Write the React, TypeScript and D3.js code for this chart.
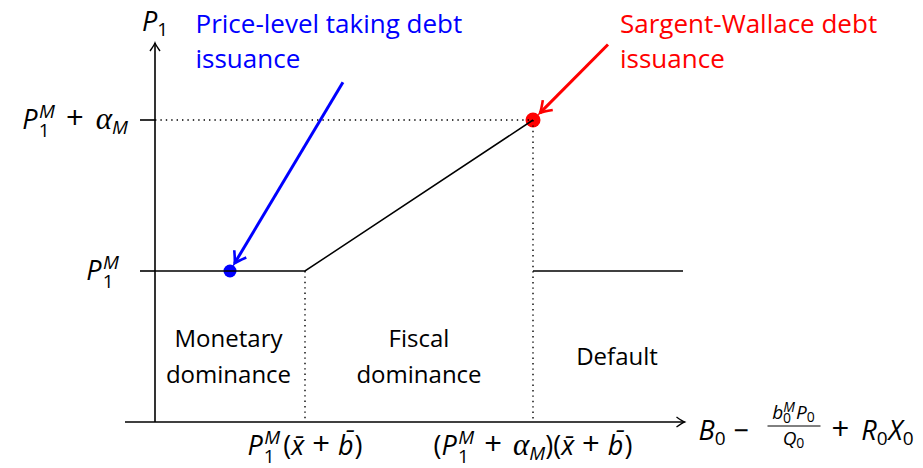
import React from "react";
import * as d3 from "d3";

// Regime diagram: period-1 price level against the debt position
const W = 923;
const H = 468;

const priceLevels = [1, 2]; // P1^M and P1^M + alpha_M
const thresholds = [1, 2.52]; // P1^M(x+b) and (P1^M+alpha_M)(x+b)
const policyX = [0, 1, 2.52];
const policyY = [1, 1, 2];
const defaultX = [2.52, 3.52];
const defaultY = [1, 1];
const regimeNames = [["Monetary", "dominance"], ["Fiscal", "dominance"], ["Default"]];
const regimeCenters = [0.49, 1.76, 3.08];
const regimeMid = 0.435;
const points = [
  { x: 0.5, y: 1, color: "#0000ff", from: [1.253, 2.25], lines: ["Price-level taking debt", "issuance"], tx: 0.27 },
  { x: 2.52, y: 2, color: "#ff0000", from: [3.02, 2.5], lines: ["Sargent-Wallace debt", "issuance"], tx: 3.1 },
];
const xExtent = [-0.2, 3.53];
const yTop = 2.51;

const FONT = "'Open Sans', Lato, sans-serif";
const SERIF = "'Liberation Serif', 'DejaVu Serif', serif";
const BIG = 27;
const SUB = 19;
const PLUS = 31;
const W_M = SUB * 0.86;
const W_1 = SUB * 0.57;

function arrowHead(tx: number, ty: number, dx: number, dy: number, len: number, half: number) {
  const l = Math.hypot(dx, dy);
  const ux = dx / l, uy = dy / l;
  const nx = -uy, ny = ux;
  const bx = tx - len * ux, by = ty - len * uy;
  const cx = tx - len * 0.25 * ux, cy = ty - len * 0.25 * uy;
  return `M${bx + half * nx},${by + half * ny} Q${cx + half * 0.15 * nx},${cy + half * 0.15 * ny} ${tx},${ty} Q${cx - half * 0.15 * nx},${cy - half * 0.15 * ny} ${bx - half * nx},${by - half * ny}`;
}

// P with subscript 1 and superscript M; the tspan after it gets dx/dy from AFTER_P1M
function P1M() {
  return (
    <>
      <tspan fontStyle="italic">P</tspan>
      <tspan fontSize={SUB} fontStyle="italic" dx={1.5} dy={-11}>M</tspan>
      <tspan fontSize={SUB} dx={-W_M} dy={19}>1</tspan>
    </>
  );
}
const AFTER_P1M = { dx: W_M - W_1, dy: -8 };

export default function App() {
  const x = d3.scaleLinear().domain([0, 1]).range([155, 305]);
  const y = d3.scaleLinear().domain([0, 2]).range([422, 120]);
  const line = d3.line<[number, number]>().x((d) => x(d[0])).y((d) => y(d[1]));
  const policy = line(policyX.map((v, i) => [v, policyY[i]] as [number, number]));
  const dflt = line(defaultX.map((v, i) => [v, defaultY[i]] as [number, number]));

  const x0 = x(0), y0 = y(0);
  const xEnd = x(xExtent[1]);
  const yEnd = y(yTop);

  return (
    <svg width={W} height={H} style={{ position: "absolute", left: 0, top: 0 }} fontFamily={FONT}>
      <rect width={W} height={H} fill="#fff" />

      {/* highlighted equilibria */}
      {points.map((p, i) => (
        <circle key={i} cx={x(p.x)} cy={y(p.y)} r={i === 0 ? 6.5 : 7.5} fill={p.color} />
      ))}

      {/* dotted guides */}
      <line x1={x0} x2={x(thresholds[1])} y1={y(priceLevels[1])} y2={y(priceLevels[1])} stroke="#000" strokeWidth={1.4} strokeDasharray="1.4 4" />
      {thresholds.map((t, i) => (
        <line key={i} x1={x(t)} x2={x(t)} y1={y(policyY[i + 1])} y2={y0} stroke="#000" strokeWidth={1.4} strokeDasharray="1.4 4" />
      ))}

      {/* price level schedule */}
      <path d={policy ?? ""} fill="none" stroke="#000" strokeWidth={1.5} />
      <path d={dflt ?? ""} fill="none" stroke="#000" strokeWidth={1.5} />

      {/* axes */}
      <line x1={x(xExtent[0])} x2={xEnd} y1={y0} y2={y0} stroke="#000" strokeWidth={1.6} />
      <path d={arrowHead(xEnd, y0, 1, 0, 8, 5)} fill="none" stroke="#000" strokeWidth={1.4} />
      <line x1={x0} x2={x0} y1={y0} y2={yEnd} stroke="#000" strokeWidth={1.6} />
      <path d={arrowHead(x0, yEnd, 0, -1, 8, 5)} fill="none" stroke="#000" strokeWidth={1.4} />

      {/* y ticks */}
      {priceLevels.map((v, i) => (
        <line key={i} x1={x0 - 15} x2={x0} y1={y(v)} y2={y(v)} stroke="#000" strokeWidth={1.6} />
      ))}
      <text x={x0 - 36} y={y(priceLevels[0]) + 9} fontSize={BIG} textAnchor="end">
        <P1M />
      </text>
      <text x={x0 - 27} y={y(priceLevels[1]) + 9} fontSize={BIG} textAnchor="end">
        <P1M />
        <tspan dx={AFTER_P1M.dx + 11} dy={AFTER_P1M.dy} fontSize={PLUS}>+</tspan>
        <tspan dx={12} fontFamily={SERIF} fontStyle="italic" fontSize={BIG * 1.15}>α</tspan>
        <tspan fontSize={SUB} fontStyle="italic" dy={5}>M</tspan>
      </text>

      {/* y axis title */}
      <text x={x0 - 13} y={yEnd - 12} fontSize={BIG}>
        <tspan fontStyle="italic">P</tspan>
        <tspan fontSize={SUB} dy={5}>1</tspan>
      </text>

      {/* x ticks */}
      <text x={x(thresholds[0])} y={y0 + 33} fontSize={BIG} textAnchor="middle">
        <P1M />
        <tspan dx={AFTER_P1M.dx + 3} dy={AFTER_P1M.dy}>(</tspan>
        <tspan fontStyle="italic">x̄</tspan>
        <tspan dx={8} fontSize={PLUS}>+</tspan>
        <tspan dx={8} fontStyle="italic">b̄</tspan>
        <tspan dx={1}>)</tspan>
      </text>
      <text x={x(thresholds[1])} y={y0 + 33} fontSize={BIG} textAnchor="middle">
        <tspan>(</tspan>
        <P1M />
        <tspan dx={AFTER_P1M.dx + 10} dy={AFTER_P1M.dy} fontSize={PLUS}>+</tspan>
        <tspan dx={11} fontFamily={SERIF} fontStyle="italic" fontSize={BIG * 1.15}>α</tspan>
        <tspan fontSize={SUB} fontStyle="italic" dy={5}>M</tspan>
        <tspan dy={-5}>)(</tspan>
        <tspan fontStyle="italic">x̄</tspan>
        <tspan dx={8} fontSize={PLUS}>+</tspan>
        <tspan dx={8} fontStyle="italic">b̄</tspan>
        <tspan dx={1}>)</tspan>
      </text>

      {/* x axis title */}
      <g transform={`translate(${xEnd + 14},${y0 + 18})`} fontSize={BIG}>
        <text x={0} y={0}>
          <tspan fontStyle="italic">B</tspan>
          <tspan fontSize={SUB} dy={5}>0</tspan>
          <tspan dx={8} dy={-5}>−</tspan>
        </text>
        <text x={95} y={-21} fontSize={19} textAnchor="middle">
          <tspan fontStyle="italic">b</tspan>
          <tspan fontSize={14} fontStyle="italic" dy={-7}>M</tspan>
          <tspan fontSize={14} dx={-12} dy={11}>0</tspan>
          <tspan dx={5} dy={-4} fontStyle="italic">P</tspan>
          <tspan fontSize={14} dy={3}>0</tspan>
        </text>
        <line x1={69} x2={122} y1={-14} y2={-14} stroke="#000" strokeWidth={1} />
        <text x={95} y={5} fontSize={19} textAnchor="middle">
          <tspan fontStyle="italic">Q</tspan>
          <tspan fontSize={14} dy={3}>0</tspan>
        </text>
        <text x={133} y={0}>
          <tspan fontSize={PLUS}>+</tspan>
          <tspan dx={12} fontStyle="italic">R</tspan>
          <tspan fontSize={SUB} dy={5}>0</tspan>
          <tspan fontStyle="italic" dy={-5} dx={1}>X</tspan>
          <tspan fontSize={SUB} dy={5}>0</tspan>
        </text>
      </g>

      {/* regime labels */}
      {regimeNames.map((lines, i) => (
        <text key={i} x={x(regimeCenters[i])} y={y(regimeMid) + 9 - (lines.length - 1) * 18} fontSize={24} textAnchor="middle">
          {lines.map((l, j) => (
            <tspan key={j} x={x(regimeCenters[i])} dy={j === 0 ? 0 : 36}>{l}</tspan>
          ))}
        </text>
      ))}

      {/* annotation arrows and captions */}
      {points.map((p, i) => {
        const sx = x(p.from[0]), sy = y(p.from[1]);
        const cx = x(p.x), cy = y(p.y);
        const dx = cx - sx, dy = cy - sy;
        const l = Math.hypot(dx, dy);
        const gap = i === 0 ? 9 : 10;
        const tx = cx - (dx / l) * gap, ty = cy - (dy / l) * gap;
        return (
          <g key={i}>
            <line x1={sx} y1={sy} x2={tx} y2={ty} stroke={p.color} strokeWidth={3} />
            <path d={arrowHead(tx, ty, dx, dy, 11, 7)} fill="none" stroke={p.color} strokeWidth={2.6} />
            <text x={x(p.tx)} y={33} fontSize={26} fill={p.color}>
              {p.lines.map((t, j) => (
                <tspan key={j} x={x(p.tx)} dy={j === 0 ? 0 : 35}>{t}</tspan>
              ))}
            </text>
          </g>
        );
      })}
    </svg>
  );
}
